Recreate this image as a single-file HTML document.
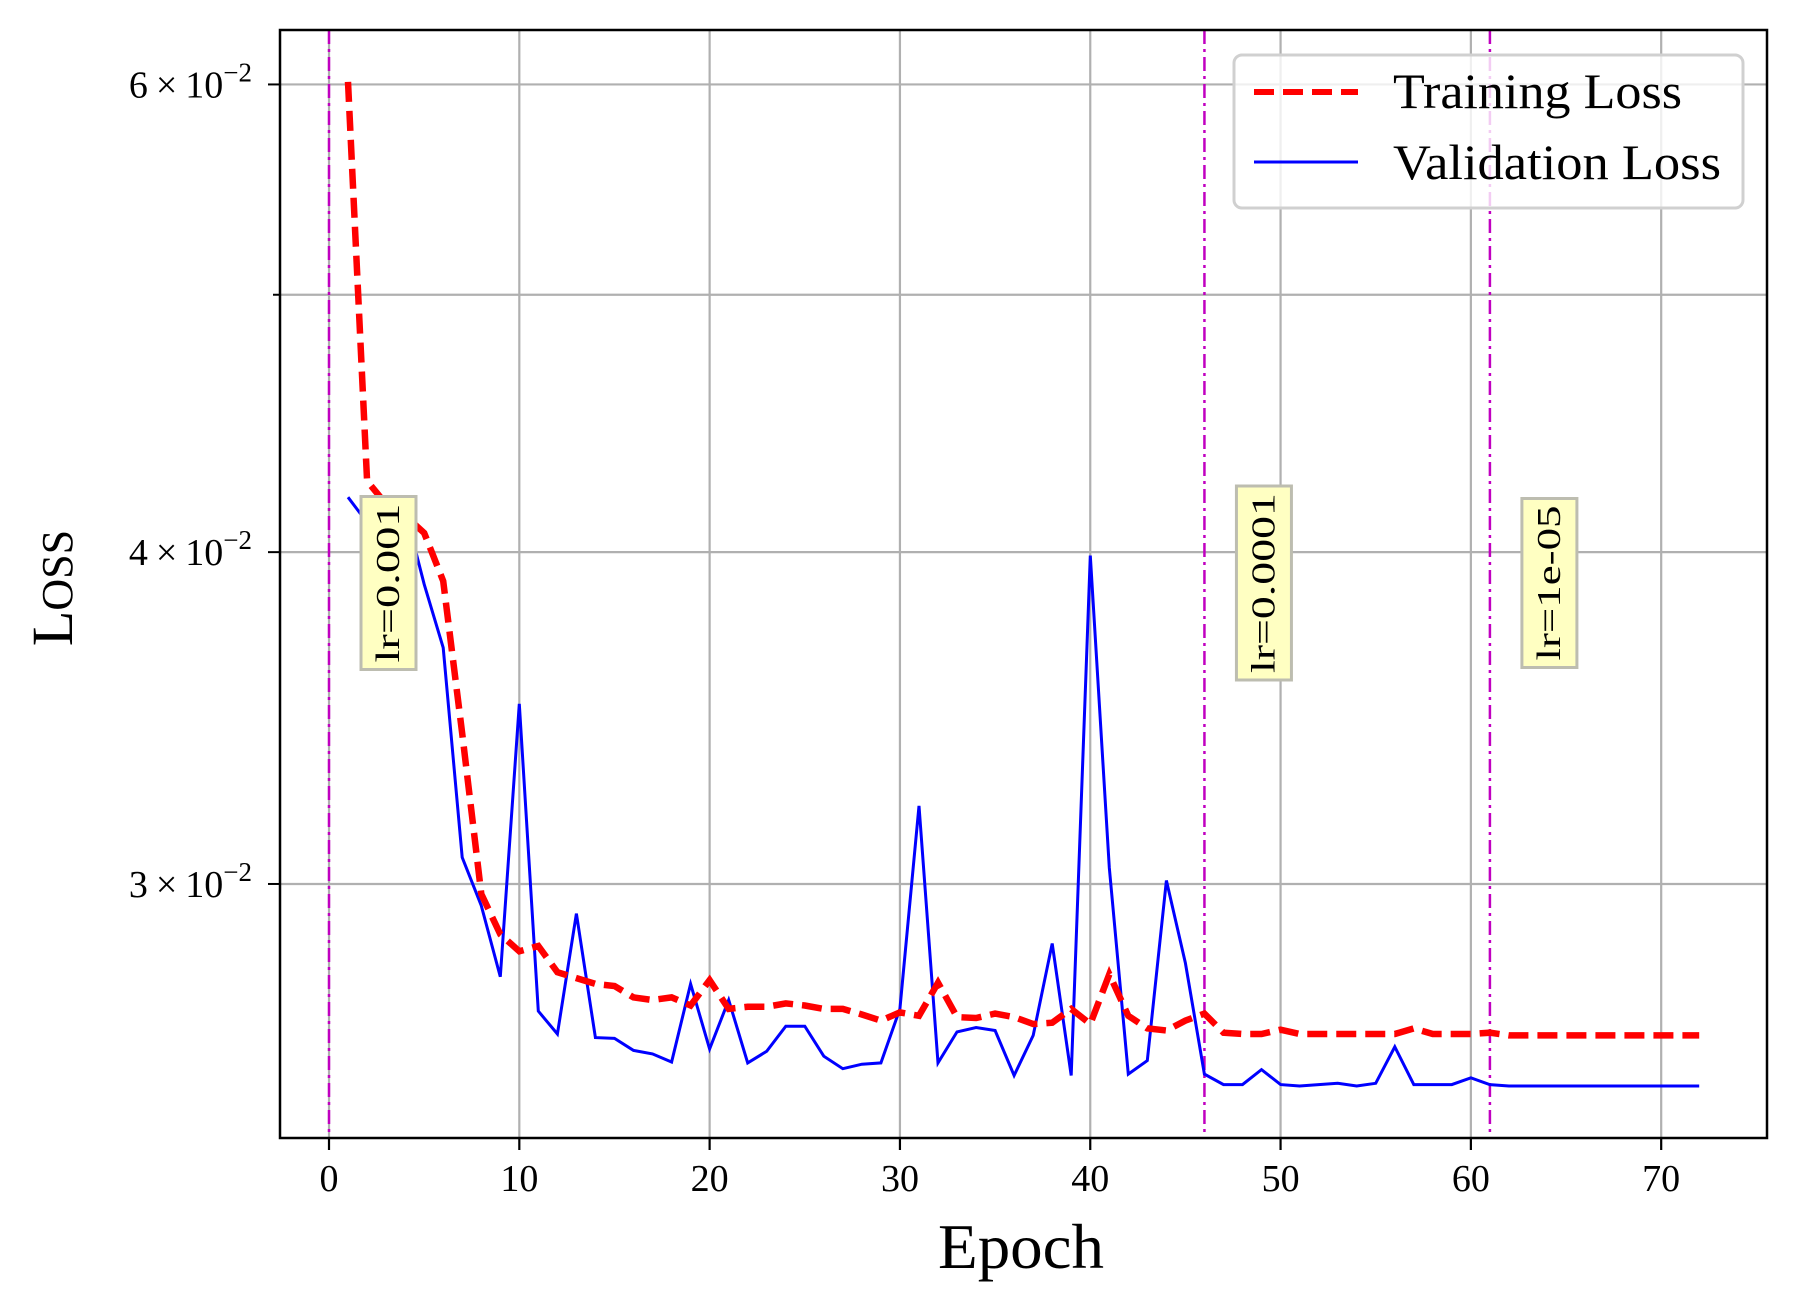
<!DOCTYPE html>
<html><head><meta charset="utf-8"><style>
html,body{margin:0;padding:0;background:#fff;}
svg{display:block;font-family:"Liberation Serif",serif;}
</style></head><body>
<svg id="chart" width="1798" height="1306" viewBox="0 0 1798 1306" xmlns="http://www.w3.org/2000/svg">
<rect x="0" y="0" width="1798" height="1306" fill="#fff"/>
<g id="grid"></g>
<g id="vlines"></g>
<g id="series"></g>
<g id="annots"></g>
<rect x="280" y="30" width="1487" height="1108" fill="none" stroke="#000" stroke-width="2.5"/>
<g id="axes"></g>
<text x="1021" y="1268" font-size="64" text-anchor="middle" textLength="166" lengthAdjust="spacingAndGlyphs">Epoch</text>
<text transform="translate(72,588) rotate(-90)" font-size="58" text-anchor="middle">L<tspan font-size="44">OSS</tspan></text>
<g>
<rect x="1234" y="55" width="509" height="153" rx="8" fill="#fff" fill-opacity="0.8" stroke="#d0d0d0" stroke-width="3"/>
<line x1="1254" y1="92" x2="1358" y2="92" stroke="#f00" stroke-width="6" stroke-dasharray="20,9"/>
<text x="1393" y="108" font-size="50" textLength="289" lengthAdjust="spacingAndGlyphs">Training Loss</text>
<line x1="1254" y1="162" x2="1358" y2="162" stroke="#00f" stroke-width="3"/>
<text x="1393" y="179" font-size="50" textLength="328" lengthAdjust="spacingAndGlyphs">Validation Loss</text>
</g>
</svg>
<script>
const epochs = [1,2,3,4,5,6,7,8,9,10,11,12,13,14,15,16,17,18,19,20,21,22,23,24,25,26,27,28,29,30,31,32,33,34,35,36,37,38,39,40,41,42,43,44,45,46,47,48,49,50,51,52,53,54,55,56,57,58,59,60,61,62,63,64,65,66,67,68,69,70,71,72];
const trainLoss = [.06013,.04254,.0417,.04129,.04067,.03901,.03418,.02974,.02872,.0283,.02843,.02779,.02765,.02751,.02746,.02719,.02713,.02719,.027,.0276,.02692,.02697,.02697,.02705,.027,.02692,.02692,.02679,.02665,.02684,.02676,.02754,.02673,.02671,.02681,.02673,.02657,.0266,.02692,.02657,.02774,.02676,.02647,.02642,.02665,.02681,.02637,.02634,.02634,.02644,.02634,.02634,.02634,.02634,.02634,.02634,.02647,.02634,.02634,.02634,.02637,.02631,.02631,.02631,.02631,.02631,.02631,.02631,.02631,.02631,.02631,.02631];
const valLoss = [.04195,.04104,.04137,.04149,.0389,.03682,.0307,.02944,.02768,.03507,.02687,.02634,.02924,.02626,.02624,.02597,.02589,.02571,.02751,.026,.02713,.02569,.02595,.02652,.02652,.02584,.02556,.02566,.02569,.02692,.0321,.02569,.02639,.02649,.02642,.02541,.02631,.02849,.02541,.03988,.03043,.02544,.02574,.03009,.02801,.02544,.02521,.02521,.02554,.02521,.02518,.02521,.02524,.02518,.02524,.02605,.02521,.02521,.02521,.02536,.02521,.02518,.02518,.02518,.02518,.02518,.02518,.02518,.02518,.02518,.02518,.02518];
const xTicks = [0,10,20,30,40,50,60,70];
const yMajorTicks = [0.06,0.04,0.03];
const yMajorLabels = ["6","4","3"];
const yMinorTicks = [0.05];
const lrEpochs = [0,46,61];
const lrLabels = ["lr=0.001","lr=0.0001","lr=1e-05"];

const NS="http://www.w3.org/2000/svg";
const L=280,R=1767,T=30,B=1138;
const xMin=-2.575, xMax=75.56;
const yTopV=0.0629, yBotV=0.02407;
function xs(e){return L+(e-xMin)/(xMax-xMin)*(R-L);}
function ys(v){return T+(Math.log(yTopV)-Math.log(v))/(Math.log(yTopV)-Math.log(yBotV))*(B-T);}
function mk(tag,attrs,parent){const el=document.createElementNS(NS,tag);for(const k in attrs)el.setAttribute(k,attrs[k]);parent.appendChild(el);return el;}

const grid=document.getElementById('grid');
const axes=document.getElementById('axes');
xTicks.forEach((t,i)=>{
  const x=xs(t);
  const g=mk('line',{x1:x,y1:T,x2:x,y2:B,stroke:'#b0b0b0','stroke-width':2.2},grid);
  
  
  const tk=mk('line',{x1:x,y1:B,x2:x,y2:B+12,stroke:'#000','stroke-width':2.2},axes);
  
  
  const lb=mk('text',{x:x,y:B+53,'font-size':38,'text-anchor':'middle'},axes);
  lb.textContent=String(t);
  
  
});
yMajorTicks.concat(yMinorTicks).forEach((v,i)=>{
  const y=ys(v);
  const g=mk('line',{x1:L,y1:y,x2:R,y2:y,stroke:'#b0b0b0','stroke-width':2.2},grid);
  
  
  const major=i<yMajorTicks.length;
  const tk=mk('line',{x1:L-(major?12:7),y1:y,x2:L,y2:y,stroke:'#000','stroke-width':2},axes);
  
  
  if(major){
    const lb=mk('text',{x:L-28,y:y+13,'font-size':38,'text-anchor':'end'},axes);
    lb.innerHTML=yMajorLabels[i]+'<tspan dx="8">×</tspan><tspan dx="8">10</tspan><tspan dy="-16" font-size="27">−2</tspan>';
    
    
  }
});

const vl=document.getElementById('vlines');
lrEpochs.forEach(e=>{
  const x=xs(e);
  const l=mk('line',{x1:x,y1:T,x2:x,y2:B,stroke:'#c000c0','stroke-width':2.5,'stroke-dasharray':'14,5,3,5'},vl);
  
  
});

const ser=document.getElementById('series');
function pts(arr){return arr.map((v,i)=>xs(epochs[i]).toFixed(1)+','+ys(v).toFixed(1)).join(' ');}
const vp=mk('polyline',{points:pts(valLoss),fill:'none',stroke:'#0000ff','stroke-width':3,'stroke-linejoin':'miter'},ser);


const tp=mk('polyline',{points:pts(trainLoss),fill:'none',stroke:'#ff0000','stroke-width':6.5,'stroke-dasharray':'20,9'},ser);



const an=document.getElementById('annots');
const boxH=[173,194,169];
lrEpochs.forEach((e,i)=>{
  const cx=xs(e)+59, cy=583, h=boxH[i];
  const r=mk('rect',{x:cx-27,y:cy-h/2,width:55,height:h,fill:'#ffffc2',stroke:'#bdbdb0','stroke-width':3},an);
  
  
  const t=mk('text',{transform:'translate('+(cx+11)+','+cy+') rotate(-90)','font-size':34,'text-anchor':'middle',textLength:h-14,lengthAdjust:'spacingAndGlyphs'},an);
  t.textContent=lrLabels[i];
  
  
});
</script>
</body></html>
